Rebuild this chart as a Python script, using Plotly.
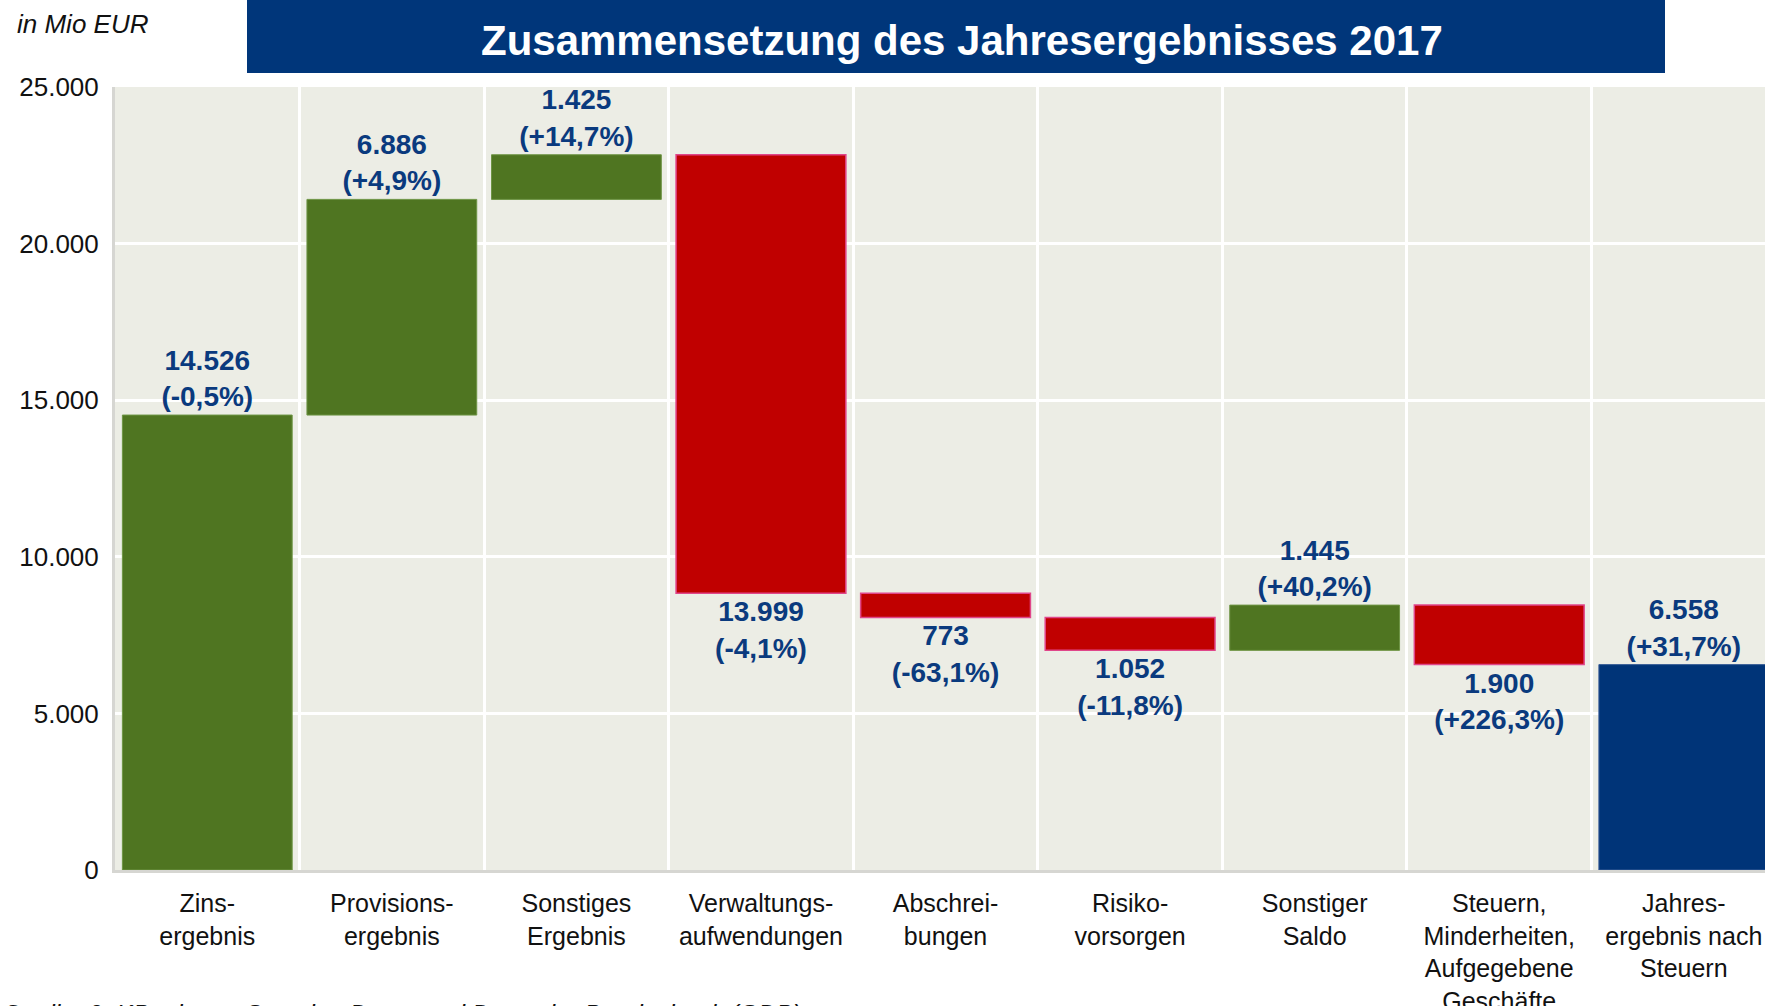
import plotly.graph_objects as go

categories = ["Zins-<br>ergebnis", "Provisions-<br>ergebnis", "Sonstiges<br>Ergebnis",
              "Verwaltungs-<br>aufwendungen", "Abschrei-<br>bungen", "Risiko-<br>vorsorgen",
              "Sonstiger<br>Saldo", "Steuern,<br>Minderheiten,<br>Aufgegebene<br>Geschäfte",
              "Jahres-<br>ergebnis nach<br>Steuern"]
values = [14526, 6886, 1425, -13999, -773, -1052, 1445, -1900, 6558]
measures = ["relative"] * 8 + ["total"]
changes = ["-0,5%", "+4,9%", "+14,7%", "-4,1%", "-63,1%", "-11,8%", "+40,2%", "+226,3%", "+31,7%"]
y_ticks = [0, 5000, 10000, 15000, 20000, 25000]

FONT = "Liberation Sans, Arial, Helvetica, sans-serif"
NAVY = "#003478"
LABEL = "#0A3A7E"

fmt = [f"{abs(v):,}".replace(",", ".") for v in values]
xs = list(range(len(categories)))

fig = go.Figure()
fig.add_trace(go.Waterfall(
    x=xs, y=values, measure=measures,
    width=0.92,
    customdata=list(zip(fmt, changes)),
    texttemplate="<b>%{customdata[0]}<br>(%{customdata[1]})</b>",
    textposition="outside",
    textfont=dict(family=FONT, size=28, color=LABEL),
    cliponaxis=False,
    increasing=dict(marker=dict(color="#4F7521", line=dict(color="#6E9444", width=1))),
    decreasing=dict(marker=dict(color="#C00000", line=dict(color="#E0468A", width=1.5))),
    totals=dict(marker=dict(color=NAVY, line=dict(color="#3A5E98", width=1))),
    connector=dict(visible=False),
    hoverinfo="skip",
))

fig.update_layout(
    width=1765, height=1006,
    margin=dict(l=115, r=0, t=87, b=136, autoexpand=False),
    paper_bgcolor="white",
    plot_bgcolor="#ECEDE5",
    separators=",.",
    showlegend=False,
    font=dict(family=FONT, color="#000000"),
    xaxis=dict(
        range=[-0.5, 8.44], automargin=False,
        tickmode="array", tickvals=xs, ticktext=categories,
        tickfont=dict(family=FONT, size=25, color="#111111"),
        showgrid=False, zeroline=False,
        showline=True, linecolor="#D6D6D2", linewidth=3,
        ticks="", ticklabelstandoff=9,
        minor=dict(tick0=0.5, dtick=1, showgrid=True, gridcolor="#FFFFFF", gridwidth=3, ticks=""),
        fixedrange=True,
    ),
    yaxis=dict(
        range=[0, 25000], automargin=False,
        tickmode="array", tickvals=y_ticks,
        tickformat=",d",
        tickfont=dict(family=FONT, size=26, color="#111111"),
        showgrid=True, gridcolor="#FFFFFF", gridwidth=2.5,
        zeroline=False,
        showline=True, linecolor="#D6D6D2", linewidth=3,
        ticks="", ticklabelstandoff=8,
    ),
    shapes=[dict(type="rect", xref="paper", yref="paper",
                 x0=(247 - 115) / 1650, x1=(1665 - 115) / 1650,
                 y0=(870 - 73) / 783, y1=(870 + 2) / 783,
                 fillcolor="#00367A", line=dict(width=0), layer="above")],
    annotations=[
        dict(text="<b>Zusammensetzung des Jahresergebnisses 2017</b>", xref="paper", yref="paper",
             x=(962 - 115) / 1650, y=(870 - 40) / 783, xanchor="center", yanchor="middle",
             showarrow=False, font=dict(family=FONT, size=42, color="white")),
        dict(text="<i>in Mio EUR</i>", xref="paper", yref="paper",
             x=-(115 - 15) / 1650, y=(870 - 24) / 783, xanchor="left", yanchor="middle",
             showarrow=False, font=dict(family=FONT, size=26, color="#111111")),
        dict(text="<i>Quelle: 2. KB, eigene Sonstige Daten und Deutsche Bundesbank (GDB)</i>",
             xref="paper", yref="paper",
             x=-(115 - 0) / 1650, y=-(998 - 870) / 783, xanchor="left", yanchor="top",
             showarrow=False, font=dict(family=FONT, size=25, color="#111111")),
    ],
)

fig.write_html("out.html", config={"displayModeBar": False},
               post_script="document.body.style.margin='0';document.body.style.overflow='hidden';")
